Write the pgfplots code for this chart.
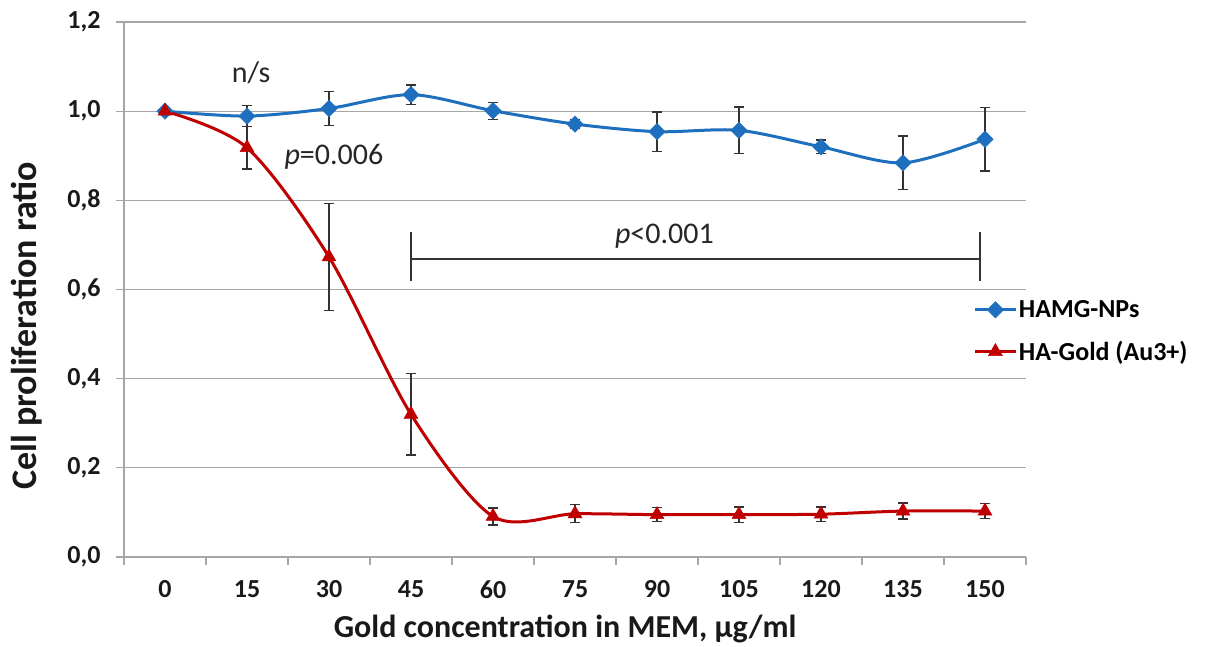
\documentclass[border=0pt]{standalone}
\usepackage{pgfplots}
\pgfplotsset{compat=1.18}
\usepackage{fontspec}
\setmainfont{Carlito}
\definecolor{blueS}{HTML}{1F6FBF}
\definecolor{redS}{HTML}{C00000}
\definecolor{gridc}{HTML}{A6A6A6}
\definecolor{errc}{HTML}{333333}

\pgfplotstableread{
x y e
0 1.000 0.000
1 0.989 0.024
2 1.006 0.038
3 1.037 0.022
4 1.001 0.019
5 0.971 0.010
6 0.954 0.044
7 0.957 0.052
8 0.920 0.015
9 0.884 0.060
10 0.937 0.071
}\bluedata

\pgfplotstableread{
x y e
0 1.000 0.000
1 0.918 0.048
2 0.673 0.120
3 0.320 0.091
4 0.091 0.019
5 0.097 0.020
6 0.095 0.016
7 0.095 0.017
8 0.096 0.016
9 0.103 0.018
10 0.103 0.017
}\reddata

\begin{document}
\begin{tikzpicture}[x=1pt,y=1pt]
\useasboundingbox (-124,-90) rectangle (1082,557);
\begin{axis}[
  at={(0,0)}, anchor=south west,
  scale only axis, width=902pt, height=535pt,
  xmin=-0.5, xmax=10.5, ymin=0, ymax=1.2,
  axis x line*=bottom, axis y line*=left,
  axis line style={gridc, line width=1.3pt},
  ymajorgrids, grid style={gridc, line width=1.3pt},
  ytick={0,0.2,0.4,0.6,0.8,1.0,1.2},
  y tick style={gridc, line width=1.3pt},
  tick align=outside,
  major tick length=8pt,
  xtick={0,...,10},
  xticklabels={0,15,30,45,60,75,90,105,120,135,150},
  x tick style={draw=none},
  extra x ticks={-0.5,0.5,...,10.5},
  extra x tick labels={},
  extra x tick style={x tick style={gridc, line width=1.3pt, draw=gridc}, major tick length=8pt, tick align=outside, grid=none},
  /pgf/number format/assume math mode=true,
  yticklabel style={/pgf/number format/fixed, /pgf/number format/fixed zerofill, /pgf/number format/precision=1, /pgf/number format/use comma, xshift=-12pt},
  ticklabel style={font=\bfseries\fontsize{26}{26}\selectfont, text=black!90},
  xticklabel style={yshift=-12pt},
  xlabel={Gold concentration in MEM, µg/ml},
  ylabel={Cell proliferation ratio},
  xlabel style={font=\bfseries\fontsize{32}{32}\selectfont, at={(axis description cs:0.489,-0.151)}, anchor=base, text=black!90},
  ylabel style={font=\bfseries\fontsize{36}{36}\selectfont, at={(axis description cs:-0.1075,0.432)}, anchor=center, text=black!90},
  legend style={at={(axis description cs:0.942,0.422)}, anchor=west, draw=none, fill=none,
     font=\bfseries\fontsize{26}{26}\selectfont, row sep=18pt, inner sep=0pt,
     nodes={inner sep=2pt, text=black}},
  legend cell align=left,
  legend image code/.code={\draw[mark repeat=2,mark phase=2,#1] plot coordinates {(0pt,0pt) (20pt,0pt) (40pt,0pt)};},
  clip=false,
]
\addplot[blueS, line width=3pt, smooth, mark=square*, mark size=5.8pt,
  mark options={rotate=45, fill=blueS, draw=blueS, line width=0.5pt},
  error bars/.cd, y dir=both, y explicit,
  error bar style={line width=1.3pt, errc},
  error mark options={rotate=90, mark size=5pt, line width=1.3pt, errc}]
  table[x=x, y=y, y error=e] {\bluedata};
\addlegendentry{HAMG-NPs}
\addplot[redS, line width=3pt, smooth, mark=triangle*, mark size=8pt,
  mark options={fill=redS, draw=redS, line width=0.5pt},
  error bars/.cd, y dir=both, y explicit,
  error bar style={line width=1.3pt, errc},
  error mark options={rotate=90, mark size=5pt, line width=1.3pt, errc}]
  table[x=x, y=y, y error=e] {\reddata};
\addlegendentry{HA-Gold (Au3+)}
\node[font=\fontsize{30}{30}\selectfont, text=black!85] at (axis cs:1.05,1.087) {n/s};
\node[font=\fontsize{30}{30}\selectfont, text=black!85] at (axis cs:2.06,0.897) {\textit{p}=0.006};
\node[font=\fontsize{30}{30}\selectfont, text=black!85] at (axis cs:6.09,0.72) {\textit{p}<0.001};
\draw[errc, line width=1.6pt] (axis cs:3,0.669) -- (axis cs:9.94,0.669);
\draw[errc, line width=1.6pt] (axis cs:3,0.619) -- (axis cs:3,0.729);
\draw[errc, line width=1.6pt] (axis cs:9.94,0.619) -- (axis cs:9.94,0.729);
\end{axis}
\end{tikzpicture}
\end{document}
